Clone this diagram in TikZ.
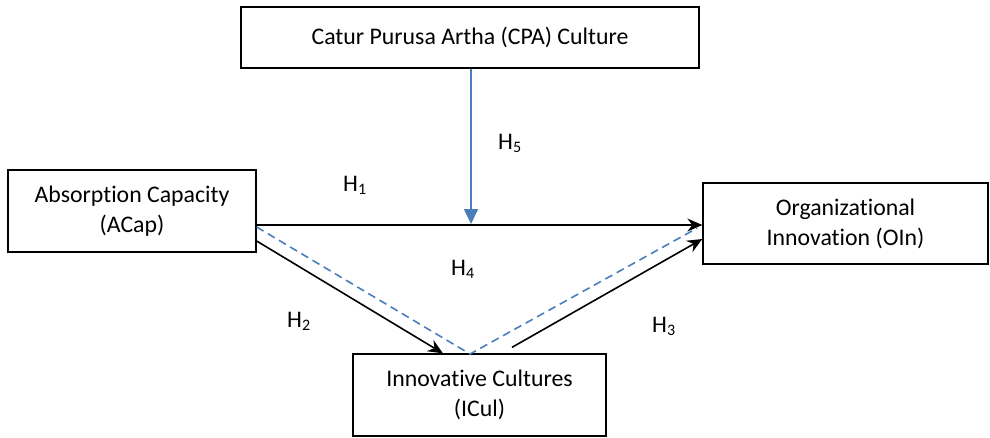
\documentclass[tikz,border=0pt]{standalone}
\usepackage{fontspec}
\setmainfont{Carlito}[Ligatures={NoCommon}]
\usetikzlibrary{arrows.meta}
\definecolor{wblue}{HTML}{4A7EBB}
\tikzset{
  box/.style={draw=black, line width=1.3pt, inner sep=0pt, align=center,
    font=\fontsize{23.8}{30}\selectfont},
  lbl/.style={anchor=base west, inner sep=0pt, font=\fontsize{23.8}{26}\selectfont},
  blk/.style={draw=black, line width=1.6pt, -{Stealth[length=15pt,width=13pt,inset=5pt]}},
  bluearr/.style={draw=wblue, line width=1.6pt, -{Triangle[length=15pt,width=14pt]}},
  bluedash/.style={draw=wblue, line width=1.6pt, dash pattern=on 8pt off 5pt},
}
\newcommand{\hsub}[1]{H\raisebox{-3pt}{\fontsize{16}{16}\selectfont #1}}
\begin{document}
\begin{tikzpicture}[x=1pt,y=-1pt]
\useasboundingbox (0,0) rectangle (990,437);
\node[box, minimum width=458pt, minimum height=61pt] (cpa) at (470,37.5) {Catur Purusa Artha (CPA) Culture};
\node[box, minimum width=248pt, minimum height=82pt] (acap) at (132,211) {Absorption Capacity\\(ACap)};
\node[box, minimum width=285pt, minimum height=81pt] (oin) at (845.5,223.5) {Organizational\\Innovation (OIn)};
\node[box, minimum width=253pt, minimum height=82pt] (icul) at (479.5,395) {Innovative Cultures\\(ICul)};
\coordinate (m) at (471,224);
\coordinate (v) at (470,354);
% H1
\draw[blk] ([yshift=-14pt]acap.east) -- ([yshift=-1.5pt]oin.west);
% H5
\draw[bluearr] (cpa.south -| m) -- (m);
% H2
\draw[blk] ([yshift=-30pt]acap.east) -- (icul.north -| 443,0);
% H4 dashed
\draw[bluedash] ([yshift=-16pt]acap.east) -- (v) -- ([xshift=-5pt,yshift=-4.5pt]oin.west);
% H3
\draw[blk] ([xshift=32.5pt,yshift=6pt]icul.north) -- ([yshift=-15.5pt]oin.west);
\node[lbl] (h5) at (498,149) {\hsub{5}};
\node[lbl] (h1) at (343,191) {\hsub{1}};
\node[lbl] (h4) at (451,275) {\hsub{4}};
\node[lbl] (h2) at (287,327) {\hsub{2}};
\node[lbl] (h3) at (652,332) {\hsub{3}};
\end{tikzpicture}
\end{document}
